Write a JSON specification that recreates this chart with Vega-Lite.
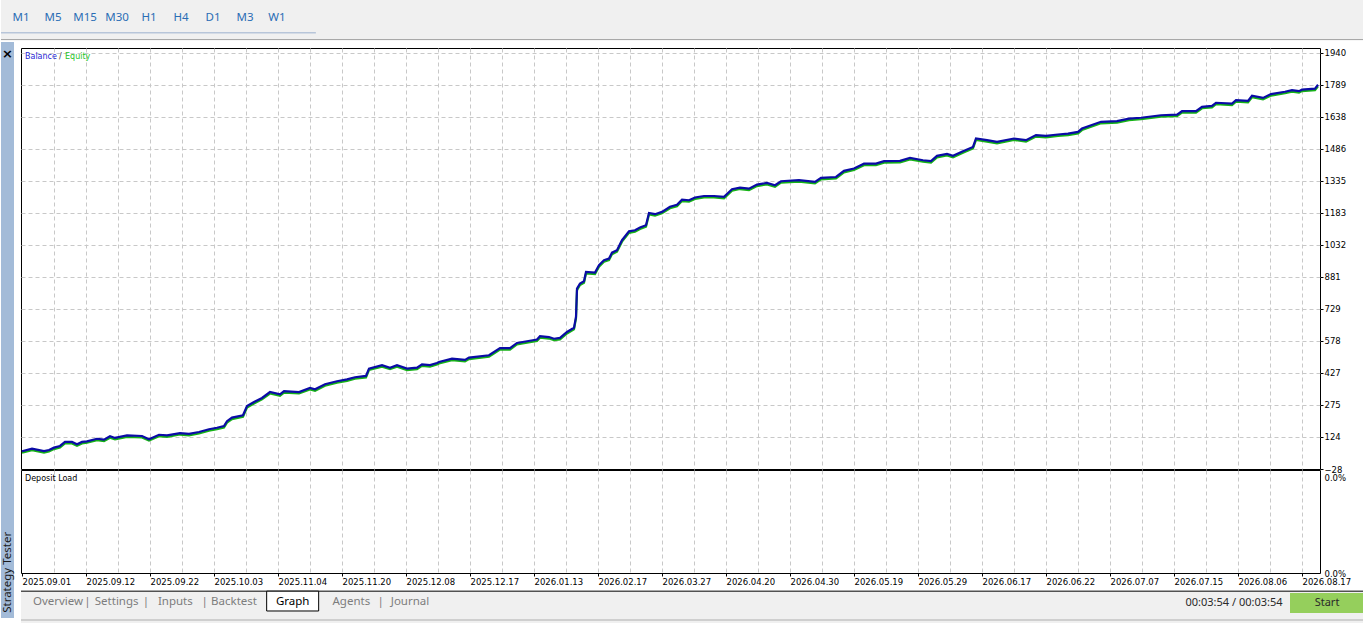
{
  "$schema": "https://vega.github.io/schema/vega-lite/v6.json",
  "background": "white",
  "padding": 0,
  "spacing": 1,
  "config": {
    "font": "DejaVu Sans",
    "view": {"stroke": null},
    "axis": {
      "labelFont": "DejaVu Sans",
      "labelFontSize": 8,
      "labelColor": "#000000",
      "gridColor": "#c8c8c8",
      "gridDash": [4, 3],
      "gridWidth": 1,
      "domain": false,
      "title": null,
      "tickColor": "#000000",
      "tickCount": 100
    }
  },
  "datasets": {
    "curve": [
      {"trade": 1, "balance": 56, "equity": 49},
      {"trade": 11, "balance": 68, "equity": 61},
      {"trade": 23, "balance": 57, "equity": 50},
      {"trade": 28, "balance": 62, "equity": 55},
      {"trade": 33, "balance": 73, "equity": 66},
      {"trade": 39, "balance": 81, "equity": 74},
      {"trade": 44, "balance": 100, "equity": 93},
      {"trade": 51, "balance": 100, "equity": 93},
      {"trade": 56, "balance": 89, "equity": 82},
      {"trade": 61, "balance": 100, "equity": 93},
      {"trade": 66, "balance": 103, "equity": 96},
      {"trade": 76, "balance": 115, "equity": 108},
      {"trade": 83, "balance": 111, "equity": 104},
      {"trade": 89, "balance": 127, "equity": 120},
      {"trade": 94, "balance": 119, "equity": 112},
      {"trade": 106, "balance": 131, "equity": 124},
      {"trade": 121, "balance": 128, "equity": 121},
      {"trade": 128, "balance": 113, "equity": 106},
      {"trade": 138, "balance": 134, "equity": 127},
      {"trade": 146, "balance": 131, "equity": 124},
      {"trade": 159, "balance": 142, "equity": 135},
      {"trade": 168, "balance": 138, "equity": 131},
      {"trade": 178, "balance": 147, "equity": 140},
      {"trade": 188, "balance": 160, "equity": 153},
      {"trade": 196, "balance": 167, "equity": 160},
      {"trade": 203, "balance": 175, "equity": 168},
      {"trade": 206, "balance": 198, "equity": 191},
      {"trade": 211, "balance": 215, "equity": 208},
      {"trade": 222, "balance": 226, "equity": 219},
      {"trade": 226, "balance": 270, "equity": 263},
      {"trade": 233, "balance": 289, "equity": 282},
      {"trade": 241, "balance": 308, "equity": 301},
      {"trade": 249, "balance": 336, "equity": 329},
      {"trade": 259, "balance": 325, "equity": 318},
      {"trade": 263, "balance": 340, "equity": 333},
      {"trade": 278, "balance": 336, "equity": 329},
      {"trade": 289, "balance": 355, "equity": 348},
      {"trade": 294, "balance": 349, "equity": 342},
      {"trade": 304, "balance": 373, "equity": 366},
      {"trade": 316, "balance": 387, "equity": 380},
      {"trade": 326, "balance": 396, "equity": 389},
      {"trade": 334, "balance": 406, "equity": 399},
      {"trade": 345, "balance": 412, "equity": 405},
      {"trade": 348, "balance": 447, "equity": 440},
      {"trade": 361, "balance": 463, "equity": 456},
      {"trade": 369, "balance": 451, "equity": 444},
      {"trade": 376, "balance": 463, "equity": 456},
      {"trade": 386, "balance": 447, "equity": 440},
      {"trade": 396, "balance": 451, "equity": 444},
      {"trade": 401, "balance": 467, "equity": 460},
      {"trade": 409, "balance": 463, "equity": 456},
      {"trade": 416, "balance": 473, "equity": 466},
      {"trade": 418, "balance": 478, "equity": 471},
      {"trade": 431, "balance": 494, "equity": 487},
      {"trade": 444, "balance": 488, "equity": 481},
      {"trade": 448, "balance": 499, "equity": 492},
      {"trade": 468, "balance": 510, "equity": 503},
      {"trade": 479, "balance": 544, "equity": 537},
      {"trade": 489, "balance": 544, "equity": 537},
      {"trade": 496, "balance": 568, "equity": 561},
      {"trade": 506, "balance": 576, "equity": 569},
      {"trade": 516, "balance": 584, "equity": 577},
      {"trade": 519, "balance": 600, "equity": 593},
      {"trade": 528, "balance": 596, "equity": 589},
      {"trade": 533, "balance": 588, "equity": 581},
      {"trade": 539, "balance": 592, "equity": 585},
      {"trade": 546, "balance": 620, "equity": 613},
      {"trade": 553, "balance": 640, "equity": 633},
      {"trade": 555, "balance": 691, "equity": 684},
      {"trade": 556, "balance": 825, "equity": 818},
      {"trade": 559, "balance": 849, "equity": 842},
      {"trade": 563, "balance": 860, "equity": 853},
      {"trade": 565, "balance": 904, "equity": 897},
      {"trade": 574, "balance": 901, "equity": 894},
      {"trade": 578, "balance": 936, "equity": 929},
      {"trade": 583, "balance": 959, "equity": 952},
      {"trade": 588, "balance": 967, "equity": 960},
      {"trade": 591, "balance": 995, "equity": 988},
      {"trade": 596, "balance": 1007, "equity": 1000},
      {"trade": 601, "balance": 1054, "equity": 1047},
      {"trade": 608, "balance": 1096, "equity": 1089},
      {"trade": 614, "balance": 1101, "equity": 1094},
      {"trade": 619, "balance": 1114, "equity": 1107},
      {"trade": 625, "balance": 1125, "equity": 1118},
      {"trade": 628, "balance": 1183, "equity": 1176},
      {"trade": 634, "balance": 1177, "equity": 1170},
      {"trade": 641, "balance": 1188, "equity": 1181},
      {"trade": 649, "balance": 1212, "equity": 1205},
      {"trade": 656, "balance": 1222, "equity": 1215},
      {"trade": 661, "balance": 1246, "equity": 1239},
      {"trade": 668, "balance": 1243, "equity": 1236},
      {"trade": 674, "balance": 1256, "equity": 1249},
      {"trade": 683, "balance": 1263, "equity": 1256},
      {"trade": 693, "balance": 1263, "equity": 1256},
      {"trade": 703, "balance": 1259, "equity": 1252},
      {"trade": 711, "balance": 1295, "equity": 1288},
      {"trade": 719, "balance": 1303, "equity": 1296},
      {"trade": 728, "balance": 1298, "equity": 1291},
      {"trade": 736, "balance": 1317, "equity": 1310},
      {"trade": 746, "balance": 1325, "equity": 1318},
      {"trade": 754, "balance": 1314, "equity": 1307},
      {"trade": 760, "balance": 1333, "equity": 1326},
      {"trade": 778, "balance": 1338, "equity": 1331},
      {"trade": 794, "balance": 1330, "equity": 1323},
      {"trade": 800, "balance": 1349, "equity": 1342},
      {"trade": 815, "balance": 1353, "equity": 1346},
      {"trade": 823, "balance": 1382, "equity": 1375},
      {"trade": 833, "balance": 1393, "equity": 1386},
      {"trade": 843, "balance": 1416, "equity": 1409},
      {"trade": 855, "balance": 1416, "equity": 1409},
      {"trade": 863, "balance": 1428, "equity": 1421},
      {"trade": 879, "balance": 1429, "equity": 1422},
      {"trade": 889, "balance": 1443, "equity": 1436},
      {"trade": 902, "balance": 1432, "equity": 1425},
      {"trade": 910, "balance": 1428, "equity": 1421},
      {"trade": 916, "balance": 1453, "equity": 1446},
      {"trade": 926, "balance": 1462, "equity": 1455},
      {"trade": 932, "balance": 1453, "equity": 1446},
      {"trade": 942, "balance": 1475, "equity": 1468},
      {"trade": 952, "balance": 1495, "equity": 1488},
      {"trade": 955, "balance": 1535, "equity": 1528},
      {"trade": 966, "balance": 1527, "equity": 1520},
      {"trade": 976, "balance": 1519, "equity": 1512},
      {"trade": 993, "balance": 1535, "equity": 1528},
      {"trade": 1005, "balance": 1527, "equity": 1520},
      {"trade": 1015, "balance": 1551, "equity": 1544},
      {"trade": 1025, "balance": 1547, "equity": 1540},
      {"trade": 1037, "balance": 1554, "equity": 1547},
      {"trade": 1047, "balance": 1558, "equity": 1551},
      {"trade": 1057, "balance": 1566, "equity": 1559},
      {"trade": 1061, "balance": 1582, "equity": 1575},
      {"trade": 1080, "balance": 1614, "equity": 1607},
      {"trade": 1096, "balance": 1617, "equity": 1610},
      {"trade": 1108, "balance": 1629, "equity": 1622},
      {"trade": 1120, "balance": 1633, "equity": 1626},
      {"trade": 1140, "balance": 1645, "equity": 1638},
      {"trade": 1156, "balance": 1648, "equity": 1641},
      {"trade": 1161, "balance": 1664, "equity": 1657},
      {"trade": 1175, "balance": 1664, "equity": 1657},
      {"trade": 1181, "balance": 1685, "equity": 1678},
      {"trade": 1191, "balance": 1689, "equity": 1682},
      {"trade": 1195, "balance": 1704, "equity": 1697},
      {"trade": 1211, "balance": 1700, "equity": 1693},
      {"trade": 1215, "balance": 1716, "equity": 1709},
      {"trade": 1227, "balance": 1713, "equity": 1706},
      {"trade": 1231, "balance": 1737, "equity": 1730},
      {"trade": 1242, "balance": 1727, "equity": 1720},
      {"trade": 1250, "balance": 1745, "equity": 1738},
      {"trade": 1264, "balance": 1756, "equity": 1749},
      {"trade": 1271, "balance": 1764, "equity": 1757},
      {"trade": 1278, "balance": 1759, "equity": 1752},
      {"trade": 1281, "balance": 1766, "equity": 1759},
      {"trade": 1294, "balance": 1771, "equity": 1764},
      {"trade": 1297, "balance": 1789, "equity": 1782}
    ],
    "frames": [
      {"frame": "M1"}, {"frame": "M5"}, {"frame": "M15"}, {"frame": "M30"},
      {"frame": "H1"}, {"frame": "H4"}, {"frame": "D1"}, {"frame": "M3"}, {"frame": "W1"}
    ],
    "tabs": [
      {"key": "Overview", "label": "Overview"},
      {"key": "s1", "label": "|"},
      {"key": "Settings", "label": "Settings"},
      {"key": "s2", "label": "|"},
      {"key": "Inputs", "label": "Inputs"},
      {"key": "s3", "label": "|"},
      {"key": "Backtest", "label": "Backtest"},
      {"key": "g1", "label": ""},
      {"key": "Graph", "label": "Graph"},
      {"key": "g2", "label": ""},
      {"key": "Agents", "label": "Agents"},
      {"key": "s4", "label": "|"},
      {"key": "Journal", "label": "Journal"}
    ]
  },
  "vconcat": [
    {
      "width": 1363,
      "height": 40,
      "view": {"fill": "#f0f0f0", "stroke": null},
      "layer": [
        {
          "data": {"name": "frames"},
          "mark": {"type": "text", "font": "Noto Sans", "fontSize": 11.5, "color": "#2a6db5", "baseline": "middle", "dy": -2},
          "encoding": {
            "x": {"field": "frame", "type": "nominal", "sort": null, "scale": {"type": "point", "padding": 0, "range": [20, 276]}, "axis": null},
            "text": {"field": "frame"}
          }
        },
        {
          "data": {"values": [{}]},
          "mark": {"type": "rule", "color": "#b7c5d9", "strokeWidth": 1.5},
          "encoding": {
            "x": {"datum": 0, "type": "quantitative", "scale": {"domain": [0, 1], "nice": false}, "axis": null},
            "x2": {"datum": 0.231},
            "y": {"datum": 0.18, "type": "quantitative", "scale": {"domain": [0, 1], "nice": false}, "axis": null}
          }
        },
        {
          "data": {"values": [{}]},
          "mark": {"type": "rule", "color": "#a0a0a0"},
          "encoding": {
            "y": {"datum": 0.01, "type": "quantitative", "scale": {"domain": [0, 1], "nice": false}, "axis": null}
          }
        }
      ],
      "resolve": {"scale": {"x": "independent"}}
    },
    {
      "spacing": 6,
      "hconcat": [
        {
          "width": 13,
          "height": 576,
          "view": {"fill": "#a3bbd8", "stroke": null},
          "layer": [
            {
              "data": {"values": [{"label": "Strategy Tester"}]},
              "mark": {"type": "text", "font": "Noto Sans", "fontSize": 11.5, "color": "#1a1a1a", "angle": 270, "align": "left", "baseline": "middle"},
              "encoding": {
                "y": {"datum": 0.009, "type": "quantitative", "scale": {"domain": [0, 1], "nice": false}, "axis": null},
                "text": {"field": "label"}
              }
            },
            {
              "data": {"values": [{"label": "×"}]},
              "mark": {"type": "text", "font": "DejaVu Sans", "fontSize": 13, "fontWeight": "bold", "color": "#000000", "baseline": "middle"},
              "encoding": {
                "y": {"datum": 0.979, "type": "quantitative", "scale": {"domain": [0, 1], "nice": false}, "axis": null},
                "text": {"field": "label"}
              }
            }
          ]
        },
        {
          "spacing": 4,
          "vconcat": [
            {
              "spacing": 1,
              "bounds": "flush",
              "vconcat": [
                {
                  "width": 1299,
                  "height": 5,
                  "data": {"values": [{"label": ""}]},
                  "mark": {"type": "text", "fontSize": 1, "baseline": "top"},
                  "encoding": {"text": {"field": "label"}}
                },
                {
                  "width": 1299,
                  "height": 421,
                  "view": {"fill": "white", "stroke": "#000000", "strokeWidth": 1},
                  "layer": [
                    {
                      "data": {"name": "curve"},
                      "mark": {"type": "line", "color": "#16b316", "strokeWidth": 2.2, "clip": true},
                      "encoding": {
                        "x": {
                          "field": "trade", "type": "quantitative",
                          "scale": {"domain": [0, 1299], "nice": false, "zero": false},
                          "axis": {
                            "values": [33, 65, 97, 129, 161, 193, 225, 257, 289, 321, 353, 385, 417, 449, 481, 513, 545, 577, 609, 641, 673, 705, 737, 769, 801, 833, 865, 897, 929, 961, 993, 1025, 1057, 1089, 1121, 1153, 1185, 1217, 1249, 1281],
                            "labels": false, "ticks": false, "grid": true
                          }
                        },
                        "y": {
                          "field": "equity", "type": "quantitative",
                          "scale": {"domain": [-28, 1963], "nice": false, "zero": false},
                          "axis": {
                            "orient": "right",
                            "values": [-28, 124, 275, 427, 578, 729, 881, 1032, 1183, 1335, 1486, 1638, 1789, 1940],
                            "format": "d",
                            "labelOverlap": false,
                            "labelFontSize": 8.5,
                            "tickSize": 3, "labelPadding": 1, "grid": true,
                            "gridOpacity": {"condition": {"test": "datum.value > -28", "value": 1}, "value": 0}
                          }
                        }
                      }
                    },
                    {
                      "data": {"name": "curve"},
                      "mark": {"type": "line", "color": "#0b0ba6", "strokeWidth": 2.2, "clip": true},
                      "encoding": {
                        "x": {"field": "trade", "type": "quantitative"},
                        "y": {"field": "balance", "type": "quantitative"}
                      }
                    },
                    {
                      "data": {"values": [{"label": "Balance"}]},
                      "mark": {"type": "text", "fontSize": 8, "color": "#1f1fd6", "align": "left", "baseline": "middle", "dx": 4, "dy": 9},
                      "encoding": {
                        "x": {"datum": 0, "type": "quantitative"},
                        "y": {"datum": 1963, "type": "quantitative"},
                        "text": {"field": "label"}
                      }
                    },
                    {
                      "data": {"values": [{"label": "/"}]},
                      "mark": {"type": "text", "fontSize": 8, "color": "#444444", "align": "left", "baseline": "middle", "dx": 38, "dy": 9},
                      "encoding": {
                        "x": {"datum": 0, "type": "quantitative"},
                        "y": {"datum": 1963, "type": "quantitative"},
                        "text": {"field": "label"}
                      }
                    },
                    {
                      "data": {"values": [{"label": "Equity"}]},
                      "mark": {"type": "text", "fontSize": 8, "color": "#1fc41f", "align": "left", "baseline": "middle", "dx": 44, "dy": 9},
                      "encoding": {
                        "x": {"datum": 0, "type": "quantitative"},
                        "y": {"datum": 1963, "type": "quantitative"},
                        "text": {"field": "label"}
                      }
                    }
                  ]
                },
                {
                  "width": 1299,
                  "height": 103,
                  "view": {"fill": "white", "stroke": "#000000", "strokeWidth": 1},
                  "data": {"values": [{"label": "Deposit Load"}]},
                  "mark": {"type": "text", "fontSize": 8, "color": "#000000", "align": "left", "baseline": "middle", "dx": 4, "dy": 9},
                  "encoding": {
                    "x": {
                      "datum": 0, "type": "quantitative",
                      "scale": {"domain": [0, 1299], "nice": false, "zero": false},
                      "axis": {
                        "values": [1, 33, 65, 97, 129, 161, 193, 225, 257, 289, 321, 353, 385, 417, 449, 481, 513, 545, 577, 609, 641, 673, 705, 737, 769, 801, 833, 865, 897, 929, 961, 993, 1025, 1057, 1089, 1121, 1153, 1185, 1217, 1249, 1281],
                        "grid": true,
                        "gridOpacity": {"condition": {"test": "datum.value > 1", "value": 1}, "value": 0},
                        "tickSize": 3,
                        "tickOpacity": {"condition": {"test": "(datum.value - 1) % 64 == 0", "value": 1}, "value": 0},
                        "labelAlign": "left",
                        "labelFontSize": 8.5,
                        "labelPadding": 1,
                        "labelOverlap": false,
                        "labelBound": false,
                        "labelFlush": false,
                        "labelExpr": "(datum.value - 1) % 64 == 0 ? ['2025.09.01','2025.09.12','2025.09.22','2025.10.03','2025.11.04','2025.11.20','2025.12.08','2025.12.17','2026.01.13','2026.02.17','2026.03.27','2026.04.20','2026.04.30','2026.05.19','2026.05.29','2026.06.17','2026.06.22','2026.07.07','2026.07.15','2026.08.06','2026.08.17'][(datum.value - 1) / 64] : ''"
                      }
                    },
                    "y": {
                      "datum": 1, "type": "quantitative",
                      "scale": {"domain": [0, 1], "nice": false},
                      "axis": {
                        "orient": "right",
                        "values": [0, 1],
                        "ticks": false,
                        "grid": false,
                        "labelPadding": 4,
                        "labelFontSize": 8.5,
                        "labelExpr": "'0.0%'",
                        "labelOffset": {"condition": {"test": "datum.value == 1", "value": 3}, "value": 0},
                        "labelBaseline": {"condition": {"test": "datum.value == 1", "value": "top"}, "value": "middle"}
                      }
                    },
                    "text": {"field": "label"}
                  }
                }
              ]
            },
            {
              "width": 1344,
              "height": 33,
              "view": {"fill": "#f0f0f0", "stroke": null},
              "layer": [
                {
                  "data": {"values": [{}]},
                  "mark": {"type": "rule", "color": "#000000", "strokeWidth": 1},
                  "encoding": {
                    "y": {"datum": 0.995, "type": "quantitative", "scale": {"domain": [0, 1], "nice": false}, "axis": null}
                  }
                },
                {
                  "data": {"values": [{}]},
                  "mark": {"type": "rule", "color": "#c4c4c4", "strokeWidth": 1.5},
                  "encoding": {
                    "y": {"datum": 0.12, "type": "quantitative"}
                  }
                },
                {
                  "data": {"values": [{"key": "Graph"}]},
                  "mark": {"type": "rect", "fill": "white", "stroke": "#000000", "strokeWidth": 1, "width": 52},
                  "encoding": {
                    "x": {"field": "key", "type": "nominal", "scale": {"type": "point", "padding": 0, "domain": ["Overview", "s1", "Settings", "s2", "Inputs", "s3", "Backtest", "g1", "Graph", "g2", "Agents", "s4", "Journal"], "range": [37, 389]}, "axis": null},
                    "y": {"datum": 0.995, "type": "quantitative"},
                    "y2": {"datum": 0.394}
                  }
                },
                {
                  "data": {"name": "tabs"},
                  "mark": {"type": "text", "font": "Noto Sans", "fontSize": 11.5, "baseline": "middle"},
                  "encoding": {
                    "x": {"field": "key", "type": "nominal", "scale": {"type": "point", "padding": 0, "domain": ["Overview", "s1", "Settings", "s2", "Inputs", "s3", "Backtest", "g1", "Graph", "g2", "Agents", "s4", "Journal"], "range": [37, 389]}, "axis": null},
                    "y": {"datum": 0.68, "type": "quantitative"},
                    "text": {"field": "label"},
                    "color": {"condition": {"test": "datum.label == 'Graph'", "value": "#000000"}, "value": "#7d7d7d"}
                  }
                },
                {
                  "data": {"values": [{"item": "start"}]},
                  "mark": {"type": "rect", "fill": "#95cf5c", "width": 74},
                  "encoding": {
                    "x": {"field": "item", "type": "nominal", "scale": {"type": "point", "padding": 0, "domain": ["time", "start"], "range": [1213, 1306]}, "axis": null},
                    "y": {"datum": 0.94, "type": "quantitative"},
                    "y2": {"datum": 0.333}
                  }
                },
                {
                  "data": {"values": [{"item": "time", "label": "00:03:54 / 00:03:54"}, {"item": "start", "label": "Start"}]},
                  "mark": {"type": "text", "font": "Noto Sans", "fontSize": 11, "baseline": "middle", "color": "#2a2a2a"},
                  "encoding": {
                    "x": {"field": "item", "type": "nominal", "scale": {"type": "point", "padding": 0, "domain": ["time", "start"], "range": [1213, 1306]}, "axis": null},
                    "y": {"datum": 0.636, "type": "quantitative"},
                    "text": {"field": "label"}
                  }
                }
              ],
              "resolve": {"scale": {"x": "independent"}}
            }
          ]
        }
      ]
    }
  ]
}
